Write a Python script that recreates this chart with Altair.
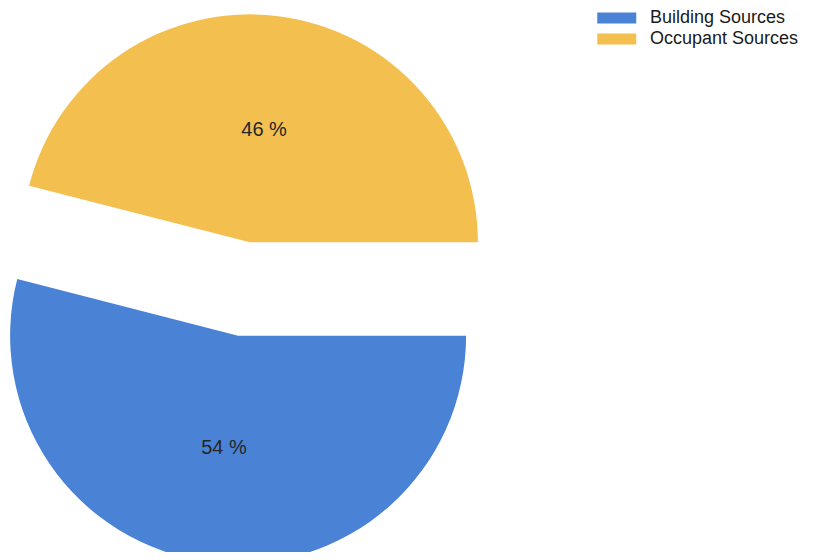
import math
import altair as alt
import pandas as pd

categories = ["Building Sources", "Occupant Sources"]
shares = [54, 46]
labels = ["54 %", "46 %"]
order = [0, 1]
colors = ["#4a82d6", "#f3c04f"]

df = pd.DataFrame({"category": categories, "share": shares, "label": labels, "ord": order})

# layout constants (svg pixels)
CX, CY = 236, 281
R = 228
EXPLODE = 47
LABEL_R = 113
START = math.pi / 2

base = alt.Chart(df).transform_window(
    cum="sum(share)", sort=[alt.SortField("ord")], frame=[None, 0]
).transform_calculate(
    a0=f"{START} + (datum.cum - datum.share) / 100 * 2 * PI",
    a1=f"{START} + datum.cum / 100 * 2 * PI",
).transform_calculate(
    mid="(datum.a0 + datum.a1) / 2"
).transform_calculate(
    px=f"{CX} + {EXPLODE} * sin(datum.mid)",
    py=f"{CY} - {EXPLODE} * cos(datum.mid)",
).transform_calculate(
    lx=f"datum.px + {LABEL_R} * sin(datum.mid)",
    ly=f"datum.py - {LABEL_R} * cos(datum.mid)",
)

arcs = base.mark_arc(outerRadius=R, strokeWidth=0).encode(
    theta=alt.Theta("a0:Q", scale=None),
    theta2="a1:Q",
    x=alt.X("px:Q", scale=None, axis=None),
    y=alt.Y("py:Q", scale=None, axis=None),
    color=alt.Color(
        "category:N",
        scale=alt.Scale(domain=categories, range=colors),
        legend=alt.Legend(
            orient="none", legendX=589, legendY=0, title=None,
            symbolType="M-1,-0.56L3,-0.56L3,0.56L-1,0.56Z",
            symbolSize=380, symbolStrokeWidth=0, symbolOpacity=1,
            labelFont="Liberation Sans", labelFontSize=18, labelColor="#1a1a1a",
            labelOffset=33, rowPadding=2, padding=0,
        ),
    ),
)

texts = base.mark_text(font="Liberation Sans", fontSize=20, color="#262626").encode(
    x=alt.X("lx:Q", scale=None, axis=None),
    y=alt.Y("ly:Q", scale=None, axis=None),
    text="label:N",
)

chart = alt.layer(arcs, texts).properties(
    width=797, height=544, padding=0, autosize=alt.AutoSizeParams(type="none")
).configure_view(stroke=None)

chart.save("out.html", embed_options={"renderer": "svg", "actions": False})
